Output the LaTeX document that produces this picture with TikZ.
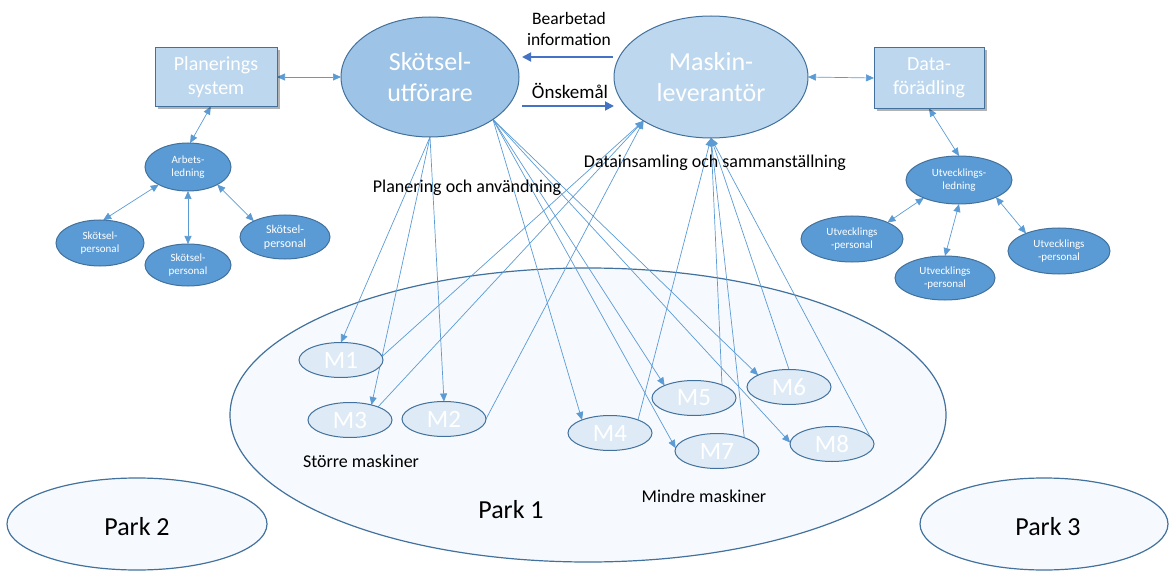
\documentclass[tikz,border=0pt]{standalone}
\usepackage{fontspec}
\setmainfont{Carlito}
\usetikzlibrary{shapes.geometric,arrows.meta,shadows}
\definecolor{edge}{HTML}{41719C}
\definecolor{lineblue}{HTML}{5B9BD5}
\definecolor{darkarrow}{HTML}{4472C4}
\definecolor{fillA}{HTML}{9DC3E6}
\definecolor{fillB}{HTML}{BDD7EE}
\definecolor{fillM}{HTML}{DEEBF7}
\definecolor{fillPark}{HTML}{F6F9FD}
\definecolor{fillSmall}{HTML}{5B9BD5}
\pgfdeclarelayer{bg}
\pgfdeclarelayer{lines}
\pgfsetlayers{bg,lines,main}
\begin{document}
\begin{tikzpicture}[x=1pt,y=-1pt,
  el/.style={ellipse, inner sep=0pt, outer sep=0pt, draw=edge, line width=1pt},
  big/.style={el, font=\fontsize{26}{31}\selectfont, text=white, align=center},
  box/.style={rectangle, draw=edge, line width=1pt, fill=fillB, text=white,
    font=\fontsize{20}{24}\selectfont, align=center, inner sep=0pt, outer sep=0pt,
    drop shadow={shadow xshift=3pt, shadow yshift=-3pt, fill=black, opacity=0.3}},
  small/.style={el, fill=fillSmall, text=white, font=\fontsize{11}{12.5}\selectfont, align=center},
  mach/.style={el, fill=fillM, text=white, font=\fontsize{25}{25}\selectfont,
    minimum width=84pt, minimum height=35pt},
  park/.style={el, fill=fillPark, line width=1.2pt},
  parklbl/.style={font=\fontsize{26}{30}\selectfont, inner sep=0pt, text=black},
  lbl/.style={font=\fontsize{18}{21}\selectfont, align=center, text=black, inner sep=0pt},
  conn/.style={draw=lineblue, line width=0.7pt, -{Triangle[width=7pt,length=8pt]}},
  biconn/.style={draw=lineblue, line width=0.7pt, {Triangle[width=7pt,length=8pt]}-{Triangle[width=7pt,length=8pt]}},
  flow/.style={draw=darkarrow, line width=1.8pt, -{Triangle[width=9pt,length=9pt]}},
]
\useasboundingbox (0,0) rectangle (1170,572);

% parks
\begin{pgfonlayer}{bg}
\node[park, minimum width=716pt, minimum height=294pt] (p1) at (588,415) {};
\node[park, minimum width=260pt, minimum height=92pt] (p2) at (137,524) {};
\node[park, minimum width=248pt, minimum height=92pt] (p3) at (1044,524) {};
\end{pgfonlayer}
\node[parklbl] (p1t) at (511,510) {Park 1};
\node[parklbl] (p2t) at (137,527) {Park 2};
\node[parklbl] (p3t) at (1048,527) {Park 3};

% main nodes
\node[big, fill=fillA, minimum width=178pt, minimum height=120pt] (sk) at (430,77) {Skötsel-\\utförare};
\node[big, fill=fillB, minimum width=194pt, minimum height=122pt] (mk) at (711,77) {Maskin-\\leverantör};
\node[box, minimum width=122pt, minimum height=59pt] (pl) at (216,77) {Planerings\\system};
\node[box, minimum width=110pt, minimum height=61pt] (df) at (929,78) {Data-\\förädling};

% left team
\node[small, minimum width=86pt, minimum height=48pt] (ab) at (188,167) {Arbets-\\ledning};
\node[small, minimum width=88pt, minimum height=46pt] (sp1) at (100,243) {Skötsel-\\personal};
\node[small, minimum width=86pt, minimum height=42pt] (sp2) at (188,265) {Skötsel-\\personal};
\node[small, minimum width=90pt, minimum height=44pt, font=\fontsize{12}{14}\selectfont] (sp3) at (285,237) {Skötsel-\\personal};

% right team
\node[small, minimum width=106pt, minimum height=48pt] (ul) at (959,180) {Utvecklings-\\ledning};
\node[small, minimum width=102pt, minimum height=46pt] (up1) at (852,239) {Utvecklings\\-personal};
\node[small, minimum width=100pt, minimum height=44pt] (up2) at (945,278) {Utvecklings\\-personal};
\node[small, minimum width=102pt, minimum height=46pt] (up3) at (1059,251) {Utvecklings\\-personal};

% machines
\node[mach] (m1) at (341,360) {M1};
\node[mach] (m3) at (350,420) {M3};
\node[mach] (m2) at (444,419) {M2};
\node[mach] (m4) at (610,433) {M4};
\node[mach] (m5) at (694,398) {M5};
\node[mach] (m6) at (789,387) {M6};
\node[mach] (m7) at (717,451) {M7};
\node[mach] (m8) at (832,444) {M8};

% labels
\node[lbl, font=\fontsize{17.5}{21.5}\selectfont] (lb1) at (569,29) {Bearbetad\\information};
\node[lbl, font=\fontsize{19}{21}\selectfont] (lb2) at (570,91) {Önskemål};
\node[lbl] (lb3) at (715,163) {Datainsamling och sammanställning};
\node[lbl] (lb4) at (467,188) {Planering och användning};
\node[lbl] (lb5) at (361,461) {Större maskiner};
\node[lbl] (lb6) at (704,496) {Mindre maskiner};

\coordinate (bi1) at (613,57);
\coordinate (bi2) at (522,57);
\coordinate (on1) at (522,106);
\coordinate (on2) at (614,106);

\begin{pgfonlayer}{lines}
\draw[flow] (bi1) -- (bi2);
\draw[flow] (on1) -- (on2);
\draw[biconn] (pl.east) -- (sk.west);
\draw[biconn] (mk.east) -- (df.west);
\draw[biconn] (pl.-100) -- (ab.85);
\draw[biconn] (ab.-149) -- (sp1.82);
\draw[biconn] (ab.south) -- (sp2.north);
\draw[biconn] (ab.-31) -- (sp3.153);
\draw[biconn] (df.south) -- (ul.north);
\draw[biconn] (ul.-153) -- (up1.25);
\draw[biconn] (ul.south) -- (up2.north);
\draw[biconn] (ul.-25) -- (up3.152);
% Skötsel to machines
\draw[conn] (sk.south) -- (m1.north);
\draw[conn] (sk.south) -- (m3.35);
\draw[conn] (sk.south) -- (m2.north);
\draw[conn] (sk.-34) -- (m4.155);
\draw[conn] (sk.-34) -- (m5.157);
\draw[conn] (sk.-34) -- (m6.159);
\draw[conn] (sk.-34) -- (m7.176);
\draw[conn] (sk.-34) -- (m8.178);
% machines to Maskinleverantör
\draw[conn] (m1.5) -- (mk.-147);
\draw[conn] (m3.25) -- (mk.-147);
\draw[conn] (m2.east) -- (mk.-147);
\draw[conn] (m4.25) -- (mk.south);
\draw[conn] (m5.25) -- (mk.south);
\draw[conn] (m7.26) -- (mk.south);
\draw[conn] (m6.north) -- (mk.south);
\draw[conn] (m8.east) -- (mk.south);
\end{pgfonlayer}
\end{tikzpicture}
\end{document}
